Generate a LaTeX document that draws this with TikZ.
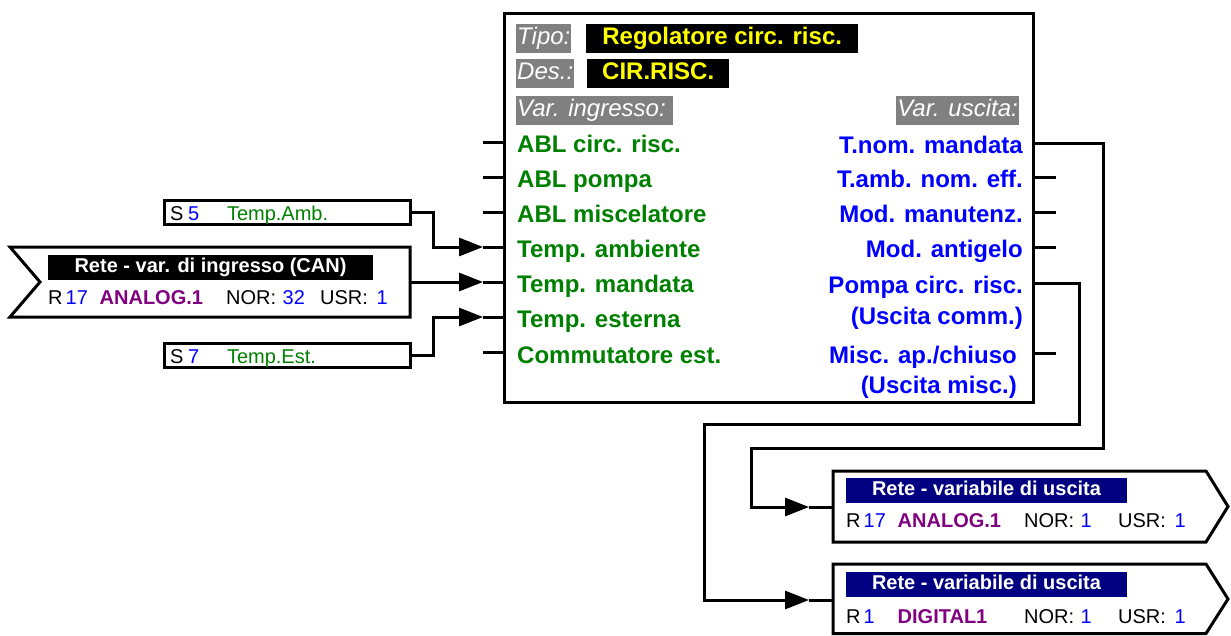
\documentclass[tikz,border=0pt]{standalone}
\usepackage{fontspec}
\setmainfont{Liberation Sans}
\usetikzlibrary{arrows.meta}

\definecolor{dgreen}{RGB}{0,128,0}
\definecolor{dblue}{RGB}{0,0,255}
\definecolor{dpurple}{RGB}{128,0,128}
\definecolor{dnavy}{RGB}{0,0,128}
\definecolor{dgray}{RGB}{128,128,128}
\definecolor{dyellow}{RGB}{255,255,0}

\newcommand{\fbig}{\fontsize{24}{28}\selectfont}
\newcommand{\fsmall}{\fontsize{20}{24}\selectfont}
% Zeile eines Netzwerk-Blocks
\newcommand{\netrow}[4]{\makebox[17.5pt][l]{R}\makebox[34pt][l]{\color{dblue}#1}\makebox[126.5pt][l]{\color{dpurple}\bfseries #2}\makebox[56.5pt][l]{NOR:}\makebox[37.5pt][l]{\color{dblue}#3}\makebox[56.5pt][l]{USR:}{\color{dblue}#4}}
\newcommand{\sensrow}[2]{\makebox[18pt][l]{S}\makebox[39pt][l]{\color{dblue}#1}{\color{dgreen}#2}}

\tikzset{
	stub/.style={line width=3pt},
	conn/.style={line width=3pt, -{Triangle[length=24pt,width=18pt]}},
	intxt/.style={anchor=west, inner sep=0pt, text height=17pt, text depth=0pt, font=\fbig\bfseries, text=dgreen},
	outtxt/.style={intxt, anchor=east, text=dblue},
	headtxt/.style={fill=dgray, text=white, inner xsep=1pt, inner ysep=0pt, minimum height=29pt, text height=17pt, text depth=5pt, font=\fbig\itshape},
	namebox/.style={fill=black, text=dyellow, inner sep=0pt, minimum height=29pt, text height=17pt, text depth=5pt, font=\fbig\bfseries},
	sbox/.style={draw, line width=3pt, minimum height=24pt, inner xsep=6pt, inner ysep=0pt, text width=234pt, align=left, text height=18pt, text depth=2pt, font=\fsmall},
	nethead/.style={inner sep=0pt, minimum height=25pt, text height=14.5pt, text depth=4pt, text=white, font=\fsmall\bfseries},
	netrow/.style={anchor=west, inner sep=0pt, text height=14.5pt, text depth=0pt, font=\fsmall},
}

\begin{document}
\begin{tikzpicture}[x=1pt,y=-1pt]
	\useasboundingbox (0,0) rectangle (1231,635);
	
	% Regler-Block
	\node (block) [draw, rectangle, line width=3pt, minimum width=529pt, minimum height=389pt, inner sep=0pt] at (768.5,207.5) {};
	\node (tipo) [headtxt, anchor=west] at (516,38.5) {Tipo:};
	\node (tiponame) [namebox, anchor=west, minimum width=272pt] at (586,38.5) {Regolatore circ. risc.};
	\node (des) [headtxt, anchor=west] at (516,73.5) {Des.:};
	\node (desname) [namebox, anchor=west, minimum width=142pt] at (587,73.5) {CIR.RISC.};
	\node (varin) [headtxt, anchor=west] at (516,110) {Var. ingresso:\hspace*{6pt}};
	\node (varout) [headtxt, anchor=east] at (1019,110) {Var. uscita:};
	
	% Eingaenge
	\node (in1) [intxt] at (517,144) {ABL circ. risc.};
	\node (in2) [intxt] at (517,179) {ABL pompa};
	\node (in3) [intxt] at (517,214) {ABL miscelatore};
	\node (in4) [intxt] at (517,249) {Temp. ambiente};
	\node (in5) [intxt] at (517,284) {Temp. mandata};
	\node (in6) [intxt] at (517,319) {Temp. esterna};
	\node (in7) [intxt] at (517,355) {Commutatore est.};
	\foreach \y [count=\i] in {142,177,212,247,282,317,352} {
		\coordinate (i\i) at (483,\y);
		\draw[stub] (i\i) -- (i\i -| block.west);
	}
	
	% Ausgaenge
	\node (out1) [outtxt] at (1023,145) {T.nom. mandata};
	\node (out2) [outtxt] at (1023,179) {T.amb. nom. eff.};
	\node (out3) [outtxt] at (1023,214) {Mod. manutenz.};
	\node (out4) [outtxt] at (1023,249) {Mod. antigelo};
	\node (out5) [outtxt] at (1023,285) {Pompa circ. risc.};
	\node (out5b) [outtxt] at (1023,316) {(Uscita comm.)};
	\node (out6) [outtxt] at (1017,355) {Misc. ap./chiuso};
	\node (out6b) [outtxt] at (1017,385) {(Uscita misc.)};
	\foreach \y [count=\i] in {143,177,212,247,283,353} {
		\coordinate (o\i) at (1056,\y);
		\draw[stub] (o\i -| block.east) -- (o\i);
	}
	
	% Sensoren
	\node (s5) [sbox] at (287,212) {\sensrow{5}{Temp.Amb.}};
	\node (s7) [sbox] at (287,355) {\sensrow{7}{Temp.Est.}};
	\draw[conn] (s5.east) -- (433,212) |- (i4);
	\draw[conn] (s7.east) -- (433,355) |- (i6);
	
	% CAN-Eingang
	\draw[line width=3pt] (10,247) -- (410,247) -- (410,317) -- (10,317) -- (40,282) -- cycle;
	\node (canhead) [nethead, fill=black, minimum width=325pt] at (210.5,267.5) {Rete - var. di ingresso (CAN)};
	\node (canrow) [netrow] at (48,297) {\netrow{17}{ANALOG.1}{32}{1}};
	\coordinate (canout) at (410,282);
	\draw[conn] (canout) -- (i5);
	
	% CAN-Ausgaenge
	\draw[line width=3pt] (833,471) -- (1206,471) -- (1228,506.5) -- (1206,542) -- (833,542) -- cycle;
	\node (nethead1) [nethead, fill=dnavy, minimum width=281pt] at (986.5,490.5) {Rete - variabile di uscita};
	\node (netrow1) [netrow] at (846,520.5) {\netrow{17}{ANALOG.1}{1}{1}};
	\coordinate (r1in) at (809,507);
	\draw[stub] (r1in) -- (833,507);
	
	\draw[line width=3pt] (833,564) -- (1206,564) -- (1228,599) -- (1206,633.5) -- (833,633.5) -- cycle;
	\node (nethead2) [nethead, fill=dnavy, minimum width=281pt] at (986.5,584.5) {Rete - variabile di uscita};
	\node (netrow2) [netrow] at (846,616) {\netrow{1}{DIGITAL1}{1}{1}};
	\coordinate (r2in) at (809,600);
	\draw[stub] (r2in) -- (833,600);
	
	\draw[conn] (o1) -| (1103,448) -| (751,507) -- (r1in);
	\draw[conn] (o5) -| (1079,424) -| (704,600) -- (r2in);
	
\end{tikzpicture}
\end{document}
